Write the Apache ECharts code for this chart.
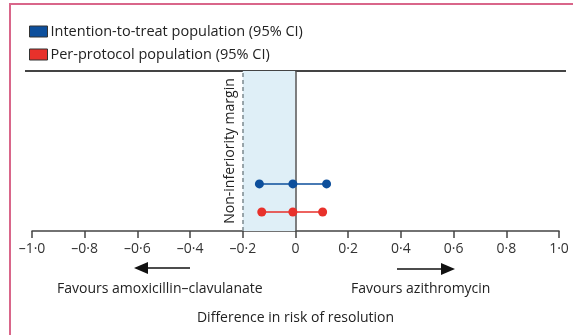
<!DOCTYPE html>
<html>
<head>
<meta charset="utf-8">
<script src="https://cdn.jsdelivr.net/npm/echarts@6/dist/echarts.min.js"></script>
<style>
  html, body { margin: 0; padding: 0; background: #fff; }
  #chart { width: 573px; height: 335px; }
</style>
</head>
<body>
<div id="chart"></div>
<script>
// rows from bottom: 0 = per-protocol, 1 = intention-to-treat
const seriesNames = ['Intention-to-treat population (95% CI)', 'Per-protocol population (95% CI)'];
const seriesColors = ['#0d4f9c', '#e8312b'];
const rowIndex = [1, 0];
// [lower CI, estimate, upper CI]
const ittValues = [-0.137, -0.01, 0.118];
const ppValues = [-0.128, -0.01, 0.103];
const xTicks = [-1, -0.8, -0.6, -0.4, -0.2, 0, 0.2, 0.4, 0.6, 0.8, 1];
const marginValue = -0.2;

const FONT = '"Open Sans", sans-serif';
const fmtTick = v => {
  if (Math.abs(v) < 1e-9) return '0';
  return (v < 0 ? '\u2013' : '') + Math.abs(v).toFixed(1).replace('.', '\u00b7');
};

const chart = echarts.init(document.getElementById('chart'));

const makeRow = (name, values, row, color, withMarks) => {
  const s = {
    name,
    type: 'line',
    data: values.map(v => [v, row]),
    symbol: 'circle',
    symbolSize: 9,
    itemStyle: { color },
    lineStyle: { color, width: 1.5 },
    z: 5,
    animation: false
  };
  if (withMarks) {
    s.markArea = {
      silent: true,
      itemStyle: { color: '#dfeff7' },
      data: [[{ xAxis: marginValue }, { xAxis: 0 }]]
    };
    s.markLine = {
      silent: true,
      symbol: 'none',
      animation: false,
      data: [
        {
          xAxis: marginValue,
          lineStyle: { color: '#7d8a90', type: [4, 3], width: 1.5 },
          label: {
            show: true,
            formatter: 'Non-inferiority margin',
            position: 'insideMiddleTop',
            distance: 6,
            color: '#222',
            fontSize: 14,
            fontFamily: FONT
          }
        },
        {
          xAxis: 0,
          lineStyle: { color: '#555', type: 'solid', width: 1.5 },
          label: { show: false }
        }
      ]
    };
  }
  return s;
};

const option = {
  animation: false,
  textStyle: { fontFamily: FONT },
  legend: {
    orient: 'vertical',
    left: 24,
    top: 19,
    itemWidth: 18,
    itemHeight: 11,
    itemGap: 8,
    icon: 'rect',
    data: seriesNames,
    itemStyle: { borderColor: '#333', borderWidth: 1 },
    textStyle: { fontSize: 14.5, color: '#222', fontFamily: FONT, padding: [0, 0, 0, -2] }
  },
  grid: { left: 32, right: 14, top: 71, bottom: 104 },
  xAxis: {
    type: 'value',
    min: -1,
    max: 1,
    interval: 0.2,
    axisLine: { onZero: false, lineStyle: { color: '#444', width: 1.5 } },
    axisTick: { show: true, length: 7, lineStyle: { color: '#444', width: 1.5 } },
    axisLabel: {
      formatter: fmtTick,
      color: '#333',
      fontSize: 14,
      margin: 11,
      fontFamily: FONT,
      customValues: xTicks
    },
    splitLine: { show: false },
    name: 'Difference in risk of resolution',
    nameLocation: 'middle',
    nameGap: 80,
    nameTextStyle: { fontSize: 14, color: '#222', fontFamily: FONT }
  },
  yAxis: {
    type: 'value',
    min: -0.68,
    max: 5.03,
    show: false
  },
  series: [
    makeRow(seriesNames[0], ittValues, rowIndex[0], seriesColors[0], true),
    makeRow(seriesNames[1], ppValues, rowIndex[1], seriesColors[1], false)
  ],
  graphic: [
    // pink frame
    {
      type: 'polyline',
      shape: { points: [[10, 335], [10, 4], [573, 4]] },
      style: { stroke: '#d9668a', lineWidth: 2, fill: null },
      silent: true
    },
    // top rule
    {
      type: 'line',
      shape: { x1: 25, y1: 71, x2: 566, y2: 71 },
      style: { stroke: '#444', lineWidth: 1.8 },
      silent: true
    },
    // left arrow
    {
      type: 'line',
      shape: { x1: 147, y1: 268, x2: 190, y2: 268 },
      style: { stroke: '#111', lineWidth: 1.5 }
    },
    {
      type: 'polygon',
      shape: { points: [[134, 268], [148, 262], [148, 274]] },
      style: { fill: '#111' }
    },
    // right arrow
    {
      type: 'line',
      shape: { x1: 397, y1: 269, x2: 443, y2: 269 },
      style: { stroke: '#111', lineWidth: 1.5 }
    },
    {
      type: 'polygon',
      shape: { points: [[455, 269], [441, 263], [441, 275]] },
      style: { fill: '#111' }
    },
    {
      type: 'text',
      left: 57,
      top: 282,
      style: { text: 'Favours amoxicillin\u2013clavulanate', fontSize: 14, fill: '#222', fontFamily: FONT }
    },
    {
      type: 'text',
      left: 351,
      top: 282,
      style: { text: 'Favours azithromycin', fontSize: 14, fill: '#222', fontFamily: FONT }
    }
  ]
};

chart.setOption(option);
</script>
</body>
</html>
